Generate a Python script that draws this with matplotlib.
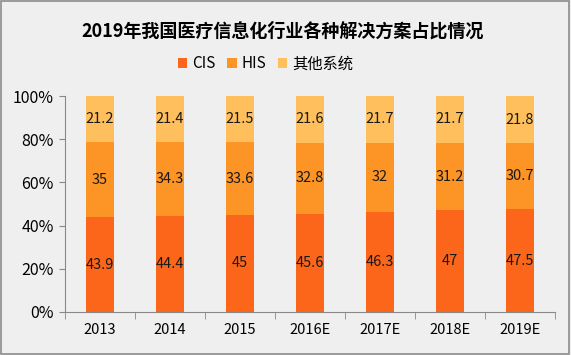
import matplotlib
import numpy as np

matplotlib.use("Agg")
import matplotlib.pyplot as plt
from matplotlib.patches import Rectangle

plt.rcParams["font.family"] = ["Noto Sans CJK SC", "DejaVu Sans"]

years = ["2013", "2014", "2015", "2016E", "2017E", "2018E", "2019E"]
cis = [43.9, 44.4, 45, 45.6, 46.3, 47, 47.5]
his = [35, 34.3, 33.6, 32.8, 32, 31.2, 30.7]
other = [21.2, 21.4, 21.5, 21.6, 21.7, 21.7, 21.8]
series_names = ["CIS", "HIS", "其他系统"]
colors = ["#FC661B", "#FD9426", "#FEBF5C"]

fig = plt.figure(figsize=(5.71, 3.55), dpi=100, facecolor="#EFEFEF")
fig.patches.append(Rectangle((0.002, 0.003), 0.995, 0.993, transform=fig.transFigure,
                             fill=False, edgecolor="#8C8C8C", linewidth=1.2))
axis = fig.add_axes([65 / 571, 1 - 312 / 355, 490 / 571, 216 / 355])
axis.set_facecolor("#EFEFEF")

x = np.arange(len(years))
values = np.array([cis, his, other])
shares = values / values.sum(axis=0) * 100
bottom = np.zeros(len(years))
for name, color, raw, share in zip(series_names, colors, values, shares):
  axis.bar(x, share, bottom=bottom, width=0.4, color=color, label=name, zorder=2)
  for xi, b, s, v in zip(x, bottom, share, raw):
    axis.text(xi, b + s / 2, f"{v:g}", ha="center", va="center", fontsize=10.5, color="#1A1A1A")
  bottom += share

axis.set_xlim(-0.5, len(years) - 0.5)
axis.set_ylim(0, 100)
axis.set_yticks(range(0, 101, 20))
axis.set_yticklabels([f"{v}%" for v in range(0, 101, 20)])
axis.set_xticks(x)
axis.set_xticklabels(years)
axis.set_xticks(np.arange(-0.5, len(years)), minor=True)
axis.tick_params(axis="x", which="major", length=0, pad=8, labelsize=10.5)
axis.tick_params(axis="x", which="minor", length=5, color="#888888", direction="out")
axis.tick_params(axis="y", length=4, color="#888888", direction="out", labelsize=11.5, pad=4)
for side in ("top", "right"):
  axis.spines[side].set_visible(False)
for side in ("left", "bottom"):
  axis.spines[side].set_color("#888888")

fig.text(0.495, 1 - 31 / 355, "2019年我国医疗信息化行业各种解决方案占比情况",
         ha="center", va="center", fontsize=13, fontweight="bold")
fig.legend(loc="center", bbox_to_anchor=(0.465, 1 - 64 / 355), ncols=3, frameon=False,
           handlelength=0.6, handleheight=0.6, handletextpad=0.3, columnspacing=0.8,
           fontsize=11)

fig.savefig("out.png", dpi=100, facecolor=fig.get_facecolor())
